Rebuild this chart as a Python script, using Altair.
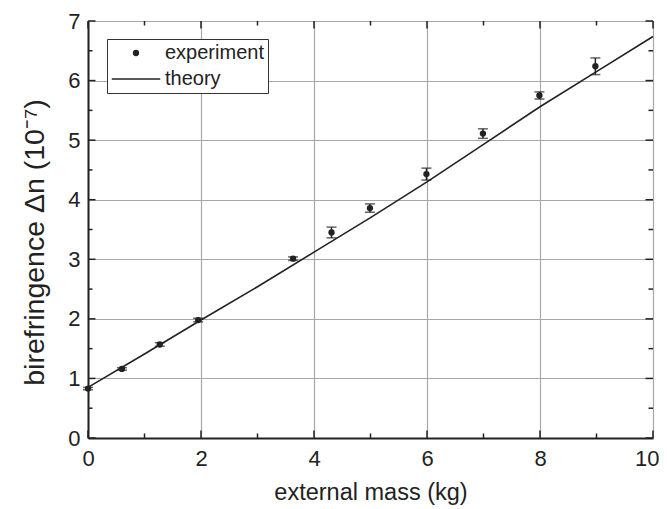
import altair as alt
import pandas as pd

# experiment data
mass = [0.0, 0.6, 1.27, 1.95, 3.63, 4.31, 4.99, 5.99, 6.99, 7.99, 8.98]
biref = [0.83, 1.16, 1.57, 1.98, 3.01, 3.45, 3.86, 4.43, 5.11, 5.75, 6.24]
err = [0.02, 0.02, 0.03, 0.03, 0.03, 0.09, 0.07, 0.10, 0.08, 0.06, 0.14]

# theory curve
theory_x = [0, 1, 2, 3, 4, 5, 6, 7, 8, 9, 10]
theory_y = [0.85, 1.41, 1.98, 2.54, 3.12, 3.70, 4.30, 4.93, 5.56, 6.15, 6.74]

# tick values
x_major = [0, 2, 4, 6, 8, 10]
x_minor = [1, 3, 5, 7, 9]
y_major = [0, 1, 2, 3, 4, 5, 6, 7]
y_minor = [0.5, 1.5, 2.5, 3.5, 4.5, 5.5, 6.5]

W, H = 565, 417
FONT = "Liberation Sans"
INK = "#222222"

exp_df = pd.DataFrame({
    "x": mass,
    "y": biref,
    "lo": [b - e for b, e in zip(biref, err)],
    "hi": [b + e for b, e in zip(biref, err)],
    "series": ["experiment"] * len(mass),
})
th_df = pd.DataFrame({"x": theory_x, "y": theory_y})

xscale = alt.Scale(domain=[0, 10], nice=False, zero=False)
yscale = alt.Scale(domain=[0, 7], nice=False, zero=False)

xaxis = alt.Axis(values=x_major, title="external mass (kg)", format="d",
                 grid=True, gridColor="#a8a8a8", gridWidth=1.2,
                 ticks=False, tickSize=0, domainColor=INK, domainWidth=2,
                 labelFont=FONT, labelFontSize=22, labelColor=INK, labelPadding=10,
                 labelFlush=True, labelFlushOffset=6,
                 titleFont=FONT, titleFontSize=23.5, titleFontWeight="normal",
                 titleColor=INK, titleBaseline="alphabetic", titleY=61)
yaxis = alt.Axis(values=y_major, title="birefringence \u0394n (10\u207b\u2077)", format="d",
                 grid=True, gridColor="#a8a8a8", gridWidth=1.2,
                 ticks=False, tickSize=0, domainColor=INK, domainWidth=2,
                 labelFont=FONT, labelFontSize=22, labelColor=INK, labelPadding=8,
                 labelFlush=False,
                 titleFont=FONT, titleFontSize=28.5, titleFontWeight="normal",
                 titleColor=INK, titleBaseline="alphabetic", titleX=-45, titleY=221)

X = alt.X("x:Q", scale=xscale, axis=xaxis)
Y = alt.Y("y:Q", scale=yscale, axis=yaxis)

theory = alt.Chart(th_df).mark_line(color=INK, strokeWidth=1.6).encode(x=X, y=Y)

bars = alt.Chart(exp_df).mark_rule(color=INK, strokeWidth=1.5).encode(
    x=X, y=alt.Y("lo:Q", scale=yscale), y2="hi:Q")
cap_lo = alt.Chart(exp_df).mark_tick(color=INK, orient="horizontal", size=10, thickness=1.5).encode(
    x=X, y=alt.Y("lo:Q", scale=yscale))
cap_hi = alt.Chart(exp_df).mark_tick(color=INK, orient="horizontal", size=10, thickness=1.5).encode(
    x=X, y=alt.Y("hi:Q", scale=yscale))

# legend symbols: a dot, and a thin bar drawn as a filled path (the "line")
LINE_SYMBOL = "M-7.67,-0.27H7.67V0.27H-7.67Z"

points = alt.Chart(exp_df).mark_point(filled=True, color=INK, size=40, opacity=1).encode(
    x=X, y=Y,
    shape=alt.Shape("series:N",
                    scale=alt.Scale(domain=["experiment", "theory"],
                                    range=["circle", LINE_SYMBOL]),
                    legend=alt.Legend(title=None, orient="none", legendX=19, legendY=18,
                                      padding=4, strokeColor="#333333", fillColor="white",
                                      labelFont=FONT, labelFontSize=20, labelColor=INK,
                                      symbolSize=40, symbolOffset=15, labelOffset=19,
                                      rowPadding=6, symbolFillColor=INK,
                                      symbolStrokeWidth=0, symbolOpacity=1)))

xt_major = pd.DataFrame({"x": x_major})
xt_minor = pd.DataFrame({"x": x_minor})
yt_major = pd.DataFrame({"y": y_major})
yt_minor = pd.DataFrame({"y": y_minor})

def xticks(df, length):
    bottom = alt.Chart(df).mark_rule(color=INK, strokeWidth=1.5).encode(
        x=X, y=alt.value(H), y2=alt.value(H - length))
    top = alt.Chart(df).mark_rule(color=INK, strokeWidth=1.5).encode(
        x=X, y=alt.value(0), y2=alt.value(length))
    return [bottom, top]

def yticks(df, length):
    left = alt.Chart(df).mark_rule(color=INK, strokeWidth=1.5).encode(
        y=Y, x=alt.value(0), x2=alt.value(length))
    right = alt.Chart(df).mark_rule(color=INK, strokeWidth=1.5).encode(
        y=Y, x=alt.value(W), x2=alt.value(W - length))
    return [left, right]

layers = [theory, bars, cap_lo, cap_hi, points]
layers += xticks(xt_major, 7.5) + xticks(xt_minor, 4.5)
layers += yticks(yt_major, 7.5) + yticks(yt_minor, 4.5)

chart = alt.layer(*layers).properties(
    width=W, height=H,
    autosize=alt.AutoSizeParams(type="none"),
    padding={"left": 80, "top": 13, "right": 6, "bottom": 70},
).configure_view(stroke=INK, strokeWidth=2).configure(background="white")

chart.save("out.html", embed_options={"renderer": "svg", "actions": False})
